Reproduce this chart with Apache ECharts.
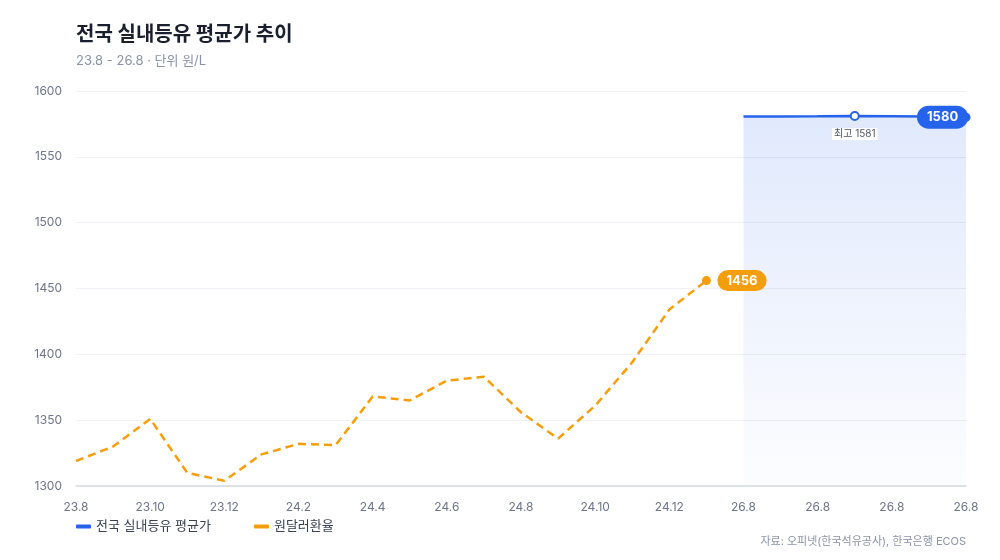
<!DOCTYPE html>
<html lang="ko">

<head>
    <meta charset="UTF-8">
    <title>전국 실내등유 평균가 추이</title>
    <style>
        html, body { margin: 0; padding: 0; background: #fff; }
        #chart { width: 1000px; height: 560px; }
    </style>
</head>

<body>
    <div id="chart"></div>
</body>
<script src="https://cdn.jsdelivr.net/npm/echarts@6/dist/echarts.min.js"></script>

<script>
    // x축 카테고리 (원본 그대로, 뒤쪽은 모두 26.8)
    var months = ['23.8', '23.9', '23.10', '23.11', '23.12', '24.1', '24.2', '24.3', '24.4', '24.5', '24.6',
        '24.7', '24.8', '24.9', '24.10', '24.11', '24.12', '25.1',
        '26.8', '26.8', '26.8', '26.8', '26.8', '26.8', '26.8']

    // 원달러환율
    var exchangeRate = [1319, 1330, 1351, 1310, 1304, 1324, 1332, 1331, 1368, 1365, 1380, 1383, 1356, 1336,
        1361, 1394, 1434, 1456, null, null, null, null, null, null, null]

    // 전국 실내등유 평균가
    var keroseneAvg = [null, null, null, null, null, null, null, null, null, null, null, null, null, null,
        null, null, null, null, 1580.6, 1580.7, 1580.8, 1581.0, 1580.8, 1580.6, 1580.1]

    var yTicks = [1300, 1350, 1400, 1450, 1500, 1550, 1600]

    var blue = '#2563eb'
    var orange = '#f59e0b'
    var font = "Inter, 'Noto Sans CJK KR', sans-serif"

    function lastIndex(arr) {
        for (let i = arr.length - 1; i >= 0; i--) {
            if (arr[i] !== null) return i
        }
        return -1
    }

    var myChart = echarts.init(document.getElementById('chart'))

    var option = {
        backgroundColor: '#fff',
        textStyle: { fontFamily: font },
        animation: false,
        title: [
            {
                text: '전국 실내등유 평균가 추이',
                left: 71,
                top: 20,
                textStyle: { fontSize: 20, fontWeight: 'bold', color: '#1a1f2e', fontFamily: font }
            },
            {
                text: '23.8 - 26.8 · 단위 원/L',
                left: 71,
                top: 50,
                textStyle: { fontSize: 13, fontWeight: 'normal', color: '#8a93a5', fontFamily: font }
            },
            {
                text: '자료: 오피넷(한국석유공사), 한국은행 ECOS',
                right: 29,
                top: 531,
                textStyle: { fontSize: 11, fontWeight: 'normal', color: '#8a93a5', fontFamily: font }
            }
        ],
        legend: {
            left: 71,
            top: 515,
            itemGap: 43,
            itemWidth: 15,
            itemHeight: 4,
            icon: 'roundRect',
            textStyle: { fontSize: 13, color: '#374151', fontFamily: font },
            data: ['전국 실내등유 평균가', '원달러환율']
        },
        grid: {
            left: 76,
            right: 34,
            top: 91,
            bottom: 74
        },
        xAxis: {
            type: 'category',
            data: months,
            boundaryGap: false,
            axisLine: { lineStyle: { color: '#d6dbe4', width: 1.5 } },
            axisTick: { show: false },
            axisLabel: {
                interval: 1,
                margin: 15,
                fontSize: 12,
                color: '#6b7488',
                fontFamily: font
            }
        },
        yAxis: {
            type: 'value',
            min: yTicks[0],
            max: yTicks[yTicks.length - 1],
            interval: 50,
            axisLine: { show: false },
            axisTick: { show: false },
            splitLine: { lineStyle: { color: '#eef1f5' } },
            axisLabel: {
                margin: 14,
                fontSize: 12,
                color: '#6b7488',
                fontFamily: font,
                formatter: function (v) { return String(v) }
            }
        },
        series: [
            {
                name: '전국 실내등유 평균가',
                type: 'line',
                data: keroseneAvg,
                color: blue,
                lineStyle: { width: 2.5, color: blue },
                symbol: 'circle',
                symbolSize: function (v, p) { return p.dataIndex === lastIndex(keroseneAvg) ? 9 : 0 },
                itemStyle: { color: blue },
                areaStyle: {
                    color: new echarts.graphic.LinearGradient(0, 0, 0, 1, [
                        { offset: 0, color: 'rgba(37, 99, 235, 0.2)' },
                        { offset: 1, color: 'rgba(37, 99, 235, 0.02)' }
                    ])
                },
                endLabel: {
                    show: true,
                    distance: 11,
                    offset: [-60, 0],
                    formatter: function (p) { return Math.round(p.value) },
                    backgroundColor: blue,
                    color: '#fff',
                    fontSize: 13,
                    fontWeight: 'bold',
                    padding: [5, 10],
                    borderRadius: 12,
                    fontFamily: font
                },
                markPoint: {
                    symbol: 'circle',
                    symbolSize: 8,
                    itemStyle: { color: '#fff', borderColor: blue, borderWidth: 2 },
                    label: {
                        show: true,
                        position: 'bottom',
                        distance: 7,
                        formatter: function (p) { return '최고 ' + Math.round(p.value) },
                        fontSize: 10,
                        color: '#4b5563',
                        backgroundColor: '#fff',
                        padding: [1, 2],
                        fontFamily: font
                    },
                    data: [{ type: 'max' }]
                }
            },
            {
                name: '원달러환율',
                type: 'line',
                data: exchangeRate,
                color: orange,
                lineStyle: { width: 2.5, color: orange, type: [8, 5] },
                symbol: 'circle',
                symbolSize: function (v, p) { return p.dataIndex === lastIndex(exchangeRate) ? 9 : 0 },
                itemStyle: { color: orange },
                endLabel: {
                    show: true,
                    distance: 11,
                    formatter: function (p) { return p.value },
                    backgroundColor: orange,
                    color: '#fff',
                    fontSize: 13,
                    fontWeight: 'bold',
                    padding: [4, 9],
                    borderRadius: 11,
                    fontFamily: font
                }
            }
        ]
    }
    myChart.setOption(option)
</script>

</html>
